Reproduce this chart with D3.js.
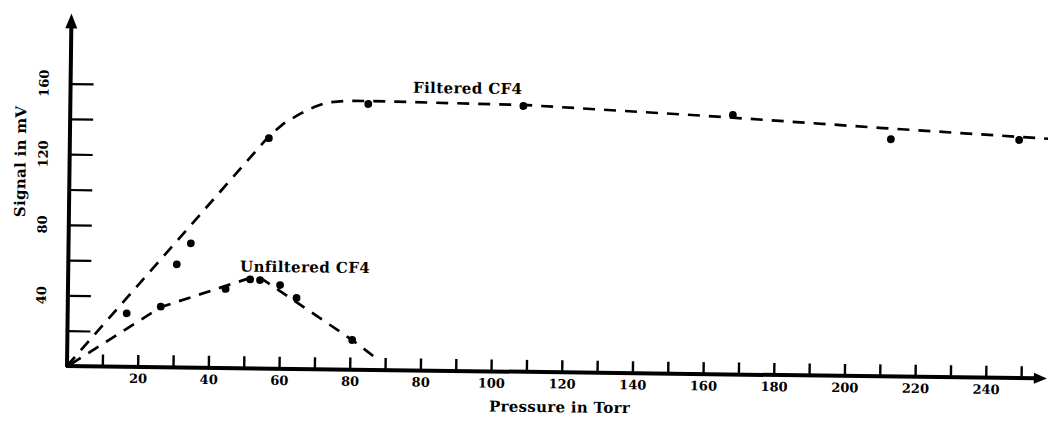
<!DOCTYPE html>
<html>
<head>
<meta charset="utf-8">
<script src="https://cdn.jsdelivr.net/npm/d3@7"></script>
<style>
  body { margin: 0; background: #fff; }
  text { font-family: "DejaVu Serif", serif; font-weight: bold; fill: #000; }
</style>
</head>
<body>
<div id="chart"></div>
<script>
// x values are positions along the drawn axis (one tick = 10), y values in mV
var xTickLabels = ["20", "40", "60", "80", "80", "100", "120", "140", "160", "180", "200", "220", "240"];
var yTickValues = [40, 80, 120, 160];

var filteredPoints = [[16.7, 30.3], [30.7, 58.4], [34.6, 70.4], [56.3, 130.5], [84.3, 150.6],
                      [128.2, 150.6], [187.5, 147.0], [232.3, 134.4], [268.6, 134.9]];
var filteredCurve = [[0, 0], [56.6, 132.3], [60.5, 139.0], [65.0, 144.5], [69.0, 148.5],
                     [72.6, 151.2], [78.0, 152.2], [84.2, 152.3], [128.1, 151.2],
                     [180.2, 146.3], [230.0, 140.7], [277.0, 135.8]];

var unfilteredPoints = [[26.3, 34.3], [44.6, 44.8], [51.5, 50.4], [54.3, 50.1], [60.0, 47.4],
                        [64.7, 40.2], [80.6, 16.8]];
var unfilteredCurve = [[1, 1], [26.4, 34.1], [51.5, 51.2], [54.9, 50.7], [80.6, 16.8], [86.6, 7.9]];

var seriesLabels = [
  { text: "Filtered CF4", x: 96.9, y: 157.3 },
  { text: "Unfiltered CF4", x: 48.6, y: 54.8 }
];

var width = 1048, height = 434,
    originX = 67, originY = 366,
    tilt = 0.73; // the scanned page is slightly skewed

var svg = d3.select("#chart").append("svg")
    .attr("width", width)
    .attr("height", height);

var g = svg.append("g")
    .attr("transform", "translate(" + originX + "," + originY + ") rotate(" + tilt + ")");

var x = d3.scaleLinear().domain([0, 280]).range([0, 989.5]);
var y = d3.scaleLinear().domain([0, 200]).range([0, -353]);

// x axis ticks pointing up
var xAxis = d3.axisBottom(x)
    .tickValues(d3.range(10, 280, 10))
    .tickSizeInner(-12)
    .tickSizeOuter(0)
    .tickPadding(7)
    .tickFormat(function(d) { return d % 20 === 0 ? xTickLabels[d / 20 - 1] : ""; });

var xg = g.append("g").call(xAxis);
xg.select(".domain").remove();
xg.selectAll(".tick line").attr("stroke", "#000").attr("stroke-width", 2.4);
xg.selectAll(".tick text").attr("font-family", null).attr("font-size", null)
    .style("font-size", "13px");

// y axis ticks pointing right
var yAxis = d3.axisLeft(y)
    .tickValues(d3.range(20, 180, 20))
    .tickSizeInner(-23)
    .tickSizeOuter(0)
    .tickFormat("");

var yg = g.append("g").call(yAxis);
yg.select(".domain").remove();
yg.selectAll(".tick line").attr("stroke", "#000").attr("stroke-width", 2.2);

g.selectAll("text.ylab")
    .data(yTickValues).enter()
    .append("text")
    .attr("class", "ylab")
    .attr("transform", function(d) { return "translate(-22," + y(d) + ") rotate(-90)"; })
    .attr("text-anchor", "middle")
    .style("font-size", "13px")
    .text(function(d) { return d; });

// main axis lines with arrow heads
g.append("line").attr("x1", -1).attr("y1", 0).attr("x2", x(277.3) - 10).attr("y2", 0)
    .attr("stroke", "#000").attr("stroke-width", 4);
g.append("path")
    .attr("d", "M" + x(277.3) + ",0 L" + (x(277.3) - 13) + ",-5.5 L" + (x(277.3) - 13) + ",5.5 Z")
    .attr("fill", "#000");
g.append("line").attr("x1", 0).attr("y1", 1).attr("x2", 0).attr("y2", y(199.8) + 12)
    .attr("stroke", "#000").attr("stroke-width", 4);
g.append("path")
    .attr("d", "M0," + y(199.8) + " L-6," + (y(199.8) + 15) + " L6," + (y(199.8) + 15) + " Z")
    .attr("fill", "#000");

// dashed curves
var line = d3.line()
    .x(function(d) { return x(d[0]); })
    .y(function(d) { return y(d[1]); });

[filteredCurve, unfilteredCurve].forEach(function(c) {
  g.append("path")
      .datum(c)
      .attr("d", line)
      .attr("fill", "none")
      .attr("stroke", "#000")
      .attr("stroke-width", 2.7)
      .attr("stroke-dasharray", "12,9");
});

// measured points
g.selectAll("circle.pt")
    .data(filteredPoints.concat(unfilteredPoints)).enter()
    .append("circle")
    .attr("class", "pt")
    .attr("cx", function(d) { return x(d[0]); })
    .attr("cy", function(d) { return y(d[1]); })
    .attr("r", 3.9)
    .attr("fill", "#000");

g.selectAll("text.series")
    .data(seriesLabels).enter()
    .append("text")
    .attr("class", "series")
    .attr("x", function(d) { return x(d.x); })
    .attr("y", function(d) { return y(d.y); })
    .style("font-size", "15px")
    .style("letter-spacing", "0.4px")
    .text(function(d) { return d.text; });

// axis titles
g.append("text")
    .attr("x", 493)
    .attr("y", 40)
    .attr("text-anchor", "middle")
    .style("font-size", "15px")
    .style("letter-spacing", "0.3px")
    .text("Pressure in Torr");

g.append("text")
    .attr("transform", "translate(-44,-204) rotate(-90)")
    .attr("text-anchor", "middle")
    .style("font-size", "15px")
    .style("letter-spacing", "0.3px")
    .text("Signal in mV");
</script>
</body>
</html>
